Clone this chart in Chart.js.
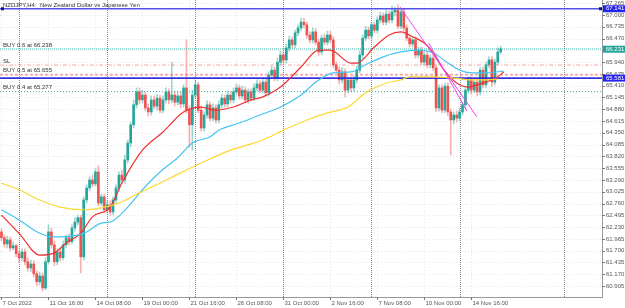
<!DOCTYPE html>
<html>
<head>
<meta charset="utf-8">
<script src="https://cdn.jsdelivr.net/npm/chart.js@4.4.0/dist/chart.umd.min.js"></script>
<style>
  html, body { margin: 0; padding: 0; background: #fff; }
</style>
</head>
<body>
<canvas id="myChart" width="625" height="308"></canvas>
<script>
/*
# NZDJPY H4 candles
*/
var opens = [62.12,61.99,61.85,61.94,61.76,61.81,61.63,61.54,61.67,61.45,
  61.31,61.40,61.18,61.00,61.13,60.86,61.45,62.12,61.83,61.45,
  61.67,61.54,61.83,61.99,61.90,62.21,62.34,62.44,61.56,62.84,
  63.11,63.29,63.20,63.47,62.77,62.91,62.62,62.73,62.57,62.84,
  63.11,63.40,63.29,63.74,64.12,64.53,64.98,65.27,65.09,65.20,
  64.91,64.82,65.09,64.95,65.13,64.86,65.09,65.27,65.09,65.20,
  65.04,65.18,65.00,65.36,64.86,64.53,65.20,65.43,64.86,64.46,
  64.75,64.98,64.68,64.91,64.64,64.98,65.13,65.00,65.20,65.09,
  65.27,65.36,65.18,65.31,65.09,65.27,65.13,65.36,65.45,65.31,
  65.49,65.25,65.65,65.76,65.58,65.94,66.10,65.99,66.26,66.44,
  66.33,66.60,66.71,66.84,66.78,66.55,66.44,66.62,66.39,66.17,
  66.48,66.39,66.55,66.44,65.88,65.76,65.54,65.72,65.31,65.54,
  65.36,65.54,65.76,66.10,66.48,66.66,66.53,66.78,66.66,66.89,
  66.98,66.84,67.02,66.89,67.07,67.11,66.75,67.07,66.71,66.48,
  66.35,66.44,66.10,66.21,65.94,66.10,65.88,66.03,65.81,64.91,
  65.36,64.86,65.40,64.82,64.64,64.75,64.68,64.82,64.98,65.31,
  65.54,65.31,65.49,65.27,65.76,65.43,65.88,65.99,65.49,65.94,
  66.17];
var highs = [62.19,62.05,62.03,62.01,61.90,61.85,61.69,61.74,61.74,61.54,
  61.49,61.47,61.24,61.22,61.20,61.54,62.28,62.21,61.92,61.74,
  61.76,61.92,62.05,62.07,62.28,62.44,62.50,62.50,62.91,63.18,
  63.36,63.40,63.54,63.61,62.97,62.97,62.82,62.82,62.91,63.18,
  63.47,63.52,63.85,64.19,64.59,65.09,65.36,65.36,65.31,65.27,
  65.00,65.18,65.18,65.22,65.20,65.18,65.36,65.34,65.94,65.29,
  65.27,65.27,65.43,66.44,64.95,65.31,65.54,65.49,64.95,64.82,
  65.07,65.04,65.00,64.98,65.07,65.22,65.20,65.29,65.27,65.36,
  65.45,65.43,65.40,65.38,65.34,65.34,65.45,65.54,65.52,65.58,
  65.56,65.72,65.85,65.83,66.03,66.19,66.17,66.35,66.53,66.51,
  66.66,66.78,66.93,66.93,66.84,66.62,66.71,66.69,66.46,66.55,
  66.57,66.64,66.64,66.51,65.94,65.83,65.81,65.79,65.61,65.61,
  65.63,65.85,66.19,66.55,66.75,66.73,66.84,66.84,66.96,67.07,
  67.05,67.11,67.09,67.20,67.18,67.23,67.14,67.14,66.78,66.55,
  66.51,66.51,66.28,66.28,66.17,66.17,66.10,66.10,65.88,65.43,
  65.43,65.47,65.47,64.89,64.82,64.84,64.91,65.04,65.38,65.61,
  65.61,65.56,65.56,65.83,65.83,65.94,66.06,66.06,66.01,66.26,
  66.30];
var lows = [61.92,61.78,61.76,61.69,61.72,61.56,61.45,61.47,61.38,61.24,
  61.22,61.11,60.91,60.93,60.79,60.82,61.40,61.76,61.36,61.38,
  61.47,61.49,61.76,61.83,61.85,62.14,62.28,61.20,61.49,62.77,
  63.04,63.13,63.16,62.71,62.71,62.55,62.55,62.50,62.50,62.77,
  63.04,63.22,63.22,63.67,64.03,64.46,64.91,65.00,65.02,64.84,
  64.73,64.75,64.89,64.86,64.80,64.80,65.02,65.00,65.02,64.95,
  64.98,64.91,64.93,64.80,64.03,63.96,65.13,64.80,64.39,64.39,
  64.68,64.62,64.62,64.57,64.57,64.91,64.93,64.93,65.02,65.02,
  65.20,65.11,65.11,65.02,65.02,65.07,65.07,65.29,65.25,65.25,
  65.18,65.18,65.58,65.52,65.52,65.88,65.92,65.92,66.19,66.26,
  66.26,66.53,66.64,66.71,66.48,66.37,66.37,66.33,66.08,66.10,
  66.33,66.33,66.37,65.81,65.70,65.45,65.47,65.16,65.25,65.27,
  65.29,65.47,65.70,66.03,66.42,66.46,66.46,66.60,66.60,66.82,
  66.78,66.78,66.82,66.82,66.98,66.69,66.69,66.64,66.42,66.28,
  66.28,66.03,66.03,65.88,65.88,65.81,65.81,65.74,64.82,64.84,
  64.80,64.80,64.73,63.85,64.55,64.59,64.62,64.75,64.91,65.25,
  65.22,65.25,65.18,65.20,65.36,65.36,65.81,65.40,65.43,65.88,
  66.12];
var closes = [61.99,61.85,61.94,61.76,61.81,61.63,61.54,61.67,61.45,61.31,
  61.40,61.18,61.00,61.13,60.86,61.45,62.12,61.83,61.45,61.67,
  61.54,61.83,61.99,61.90,62.21,62.34,62.44,61.56,62.84,63.11,
  63.29,63.20,63.47,62.77,62.91,62.62,62.73,62.57,62.84,63.11,
  63.40,63.29,63.74,64.12,64.53,64.98,65.27,65.09,65.20,64.91,
  64.82,65.09,64.95,65.13,64.86,65.09,65.27,65.09,65.20,65.04,
  65.18,65.00,65.36,64.86,64.53,65.20,65.43,64.86,64.46,64.75,
  64.98,64.68,64.91,64.64,64.98,65.13,65.00,65.20,65.09,65.27,
  65.36,65.18,65.31,65.09,65.27,65.13,65.36,65.45,65.31,65.49,
  65.25,65.65,65.76,65.58,65.94,66.10,65.99,66.26,66.44,66.33,
  66.60,66.71,66.84,66.78,66.55,66.44,66.62,66.39,66.17,66.48,
  66.39,66.55,66.44,65.88,65.76,65.54,65.72,65.31,65.54,65.36,
  65.54,65.76,66.10,66.48,66.66,66.53,66.78,66.66,66.89,66.98,
  66.84,67.02,66.89,67.07,67.11,66.75,67.07,66.71,66.48,66.35,
  66.44,66.10,66.21,65.94,66.10,65.88,66.03,65.81,64.91,65.36,
  64.86,65.40,64.82,64.64,64.75,64.68,64.82,64.98,65.31,65.54,
  65.31,65.49,65.27,65.76,65.43,65.88,65.99,65.49,65.94,66.17,
  66.24];

// moving averages, [bar index, price] read at a few places
var maRed = [[0,62.50],[6,62.09],[13,61.60],[18,61.65],[22,61.87],[27,62.09],[31,62.46],[37,62.68],
  [41,63.22],[48,63.96],[55,64.37],[62,64.82],[68,64.93],[73,64.86],[79,64.93],[85,65.09],[89,65.16],
  [95,65.38],[102,65.83],[108,66.21],[112,66.21],[119,65.92],[121,65.92],[127,66.28],[132,66.55],
  [136,66.62],[140,66.51],[144,66.37],[147,66.15],[150,65.83],[155,65.47],[159,65.38],[162,65.43],
  [165,65.49],[169,65.61],[171,65.72]];
var maCyan = [[0,62.62],[6,62.39],[13,62.09],[18,62.01],[26,62.05],[29,62.12],[34,62.32],[37,62.34],
  [43,62.68],[48,63.07],[54,63.47],[60,63.79],[65,64.12],[71,64.26],[74,64.41],[81,64.57],[88,64.75],
  [95,64.93],[102,65.20],[107,65.49],[113,65.70],[119,65.72],[124,65.88],[130,66.06],[136,66.17],
  [142,66.21],[147,66.15],[152,65.92],[156,65.76],[160,65.70],[165,65.70],[171,65.74]];
var maYellow = [[0,63.22],[6,63.07],[13,62.84],[20,62.68],[28,62.62],[35,62.68],[40,62.77],[47,63.00],
  [54,63.22],[61,63.45],[68,63.67],[78,63.96],[89,64.19],[96,64.41],[104,64.64],[111,64.80],
  [118,64.93],[124,65.25],[131,65.47],[136,65.54],[139,65.61],[147,65.61],[154,65.58],[160,65.54],
  [164,65.54],[169,65.56]];

// drawn trend lines [bar index, price]
var trendA = [[135.7,67.18],[161.9,64.71]];
var trendB = [[145.5,66.37],[158.5,64.84]];

// horizontal levels and their captions
var levelValues = [67.141, 66.238, 65.875, 65.655, 65.581, 65.277];
var levelTexts = ['', 'BUY 0.6 at 66.238', 'SL', 'BUY 0.5 at 65.655', '', 'BUY 0.4 at 65.277'];
var priceBoxValues = [67.141, 66.231, 65.581];

var timeTickIdx = [0,16,32,48,64,80,96,112,128,144,160];
var timeLabels = ['7 Oct 2022','11 Oct 16:00','14 Oct 08:00','19 Oct 00:00','21 Oct 16:00',
  '26 Oct 08:00','31 Oct 00:00','2 Nov 16:00','7 Nov 08:00','10 Nov 00:00','14 Nov 16:00'];
var weekIdx = [6,36,66,96,126,156,191.5];
var priceTicks = [67.265,67.000,66.735,66.470,66.205,65.940,65.675,65.410,65.145,64.880,64.615,
  64.350,64.085,63.820,63.555,63.290,63.025,62.760,62.495,62.230,61.965,61.700,61.435,61.170,60.905];

var FONT = '"Liberation Sans", Arial, sans-serif';
var BULL = '#26a69a', BEAR = '#ef5350';

var isUp = closes.map(function(c, i){ return c >= opens[i]; });
var wickData = closes.map(function(c, i){ return {x: i, y: [lows[i], highs[i]]}; });
var bodyData = closes.map(function(c, i){ return {x: i, y: [opens[i], c]}; });
function pts(arr){ return arr.map(function(p){ return {x: p[0], y: p[1]}; }); }

var levelStyles = [
  {color: 'rgba(50,50,230,0.85)', width: 1.6, dash: []},
  {color: 'rgba(38,166,154,0.45)', width: 2, dash: [1,1]},
  {color: 'rgba(239,83,80,0.5)', width: 1, dash: [4,2,1,2]},
  {color: 'rgba(239,83,80,0.45)', width: 2, dash: [3,2]},
  {color: 'rgba(40,40,220,0.95)', width: 1.6, dash: []},
  {color: 'rgba(38,166,154,0.95)', width: 1, dash: [1,2]}
];

var datasets = [];
datasets.push({type: 'bar', data: wickData, grouped: false, barThickness: 1, minBarLength: 1,
  backgroundColor: isUp.map(function(u){ return u ? 'rgba(38,166,154,0.45)' : 'rgba(239,83,80,0.45)'; }),
  borderWidth: 0, order: 6});
datasets.push({type: 'bar', data: bodyData, grouped: false, barThickness: 2, minBarLength: 1,
  backgroundColor: isUp.map(function(u){ return u ? BULL : BEAR; }),
  borderWidth: 0, order: 5});
levelValues.forEach(function(v, k){
  var s = levelStyles[k];
  datasets.push({type: 'line', data: [{x: -0.5, y: v}, {x: 204.5, y: v}], borderColor: s.color,
    borderWidth: s.width, borderDash: s.dash, pointRadius: 0, order: 3});
});
[[maYellow, '#fdd835'], [maCyan, '#45c4f2'], [maRed, '#ee3030']].forEach(function(m){
  datasets.push({type: 'line', data: pts(m[0]), borderColor: m[1], borderWidth: 1.2,
    pointRadius: 0, cubicInterpolationMode: 'monotone', order: 2});
});
[trendA, trendB].forEach(function(t){
  datasets.push({type: 'line', data: pts(t), borderColor: '#f040f0', borderWidth: 1, pointRadius: 0, order: 1});
});

/*
# grid, axis texts, captions and price boxes
*/
var decor = {
  id: 'decor',
  beforeDatasetsDraw: function(chart){
    var ctx = chart.ctx, a = chart.chartArea, x = chart.scales.x, y = chart.scales.y;
    ctx.save();
    ctx.lineWidth = 1;
    ctx.strokeStyle = '#e6e6e6';
    ctx.setLineDash([1, 2]);
    priceTicks.forEach(function(v){
      var py = Math.round(y.getPixelForValue(v)) + 0.5;
      ctx.beginPath(); ctx.moveTo(a.left, py); ctx.lineTo(a.right, py); ctx.stroke();
    });
    timeTickIdx.forEach(function(v){
      var px = Math.round(x.getPixelForValue(v)) + 0.5;
      ctx.beginPath(); ctx.moveTo(px, a.top); ctx.lineTo(px, a.bottom); ctx.stroke();
    });
    ctx.strokeStyle = '#8a8a8a';
    ctx.setLineDash([1, 1]);
    weekIdx.forEach(function(v){
      var px = Math.round(x.getPixelForValue(v)) + 0.5;
      ctx.beginPath(); ctx.moveTo(px, a.top); ctx.lineTo(px, a.bottom); ctx.stroke();
    });
    ctx.restore();
  },
  afterDraw: function(chart){
    var ctx = chart.ctx, a = chart.chartArea, x = chart.scales.x, y = chart.scales.y;
    ctx.save();
    ctx.font = '6px ' + FONT;
    ctx.textAlign = 'left';
    // axis ticks and texts
    ctx.strokeStyle = '#777';
    ctx.lineWidth = 1;
    ctx.fillStyle = '#555';
    ctx.textBaseline = 'middle';
    priceTicks.forEach(function(v){
      var py = y.getPixelForValue(v);
      ctx.beginPath(); ctx.moveTo(a.right, Math.round(py) + 0.5); ctx.lineTo(a.right + 3, Math.round(py) + 0.5); ctx.stroke();
      ctx.fillText(v.toFixed(3), a.right + 4, py);
    });
    timeTickIdx.forEach(function(v, k){
      var px = Math.round(x.getPixelForValue(v)) + 0.5;
      ctx.beginPath(); ctx.moveTo(px, a.bottom); ctx.lineTo(px, a.bottom + 3); ctx.stroke();
      ctx.fillText(timeLabels[k], px + 1, a.bottom + 6);
    });
    ctx.fillStyle = '#333';
    ctx.fillText('NZDJPY,H4:  New Zealand Dollar vs Japanese Yen', 3, 5);
    ctx.textBaseline = 'bottom';
    levelValues.forEach(function(v, k){
      if (!levelTexts[k]) return;
      ctx.fillText(levelTexts[k], 3, y.getPixelForValue(v) - 1);
    });
    // anchors of the top level line
    var ty = y.getPixelForValue(levelValues[0]);
    ctx.fillStyle = '#101080';
    ctx.fillRect(1, ty - 1.5, 3, 3);
    ctx.fillRect(a.right - 3, ty - 1.5, 3, 3);
    // price boxes on the axis
    ctx.textBaseline = 'middle';
    priceBoxValues.forEach(function(v, k){
      var py = y.getPixelForValue(v);
      ctx.fillStyle = k === 1 ? BULL : '#2323f0';
      ctx.fillRect(a.right + 1, py - 3.5, 22, 7);
      ctx.fillStyle = '#fff';
      ctx.fillText(v.toFixed(3), a.right + 4, py);
    });
    ctx.restore();
  }
};

var ctx = document.getElementById('myChart').getContext('2d');
var chart = new Chart(ctx, {
  type: 'bar',
  data: { datasets: datasets },
  options: {
    responsive: false,
    animation: false,
    devicePixelRatio: 1,
    layout: { padding: 0 },
    plugins: { legend: { display: false }, tooltip: { enabled: false } },
    scales: {
      x: {
        type: 'linear', min: -0.5, max: 204.5, offset: false,
        afterFit: function(s){ s.height = 11; },
        ticks: { display: false },
        grid: { display: false },
        border: { color: '#999' }
      },
      y: {
        position: 'right', min: 60.657, max: 67.338, offset: false,
        afterFit: function(s){ s.width = 23; },
        ticks: { display: false },
        grid: { display: false },
        border: { color: '#999' }
      }
    }
  },
  plugins: [decor]
});
</script>
</body>
</html>
